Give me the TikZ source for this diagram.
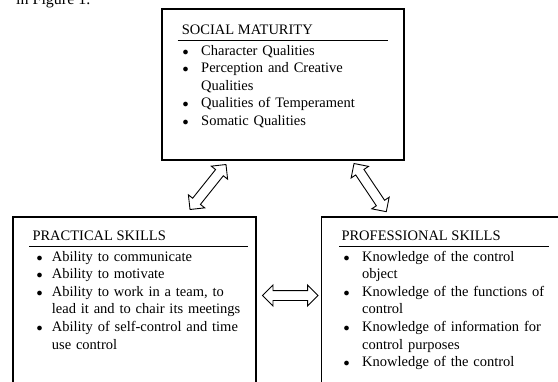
\documentclass[tikz,border=0pt]{standalone}
\usepackage{fontspec}
\setmainfont{Liberation Serif}
\usetikzlibrary{shapes.arrows,calc}
\newlength\bulwd
\newcommand{\bul}{\makebox[\bulwd][l]{\fontsize{12}{12}\selectfont$\bullet$}}
\newcommand{\cnt}{\hspace*{\bulwd}}

\begin{document}
\begin{tikzpicture}[x=1pt, y=-1pt,
    box/.style={draw, line width=1.6pt, rectangle, outer sep=0pt, inner sep=0pt, anchor=north west},
    boxtitle/.style={anchor=base west, inner sep=0pt, font=\fontsize{14.5}{17.6}\selectfont},
    boxlist/.style={anchor=base west, inner sep=0pt, text width=230pt, align=left, font=\fontsize{14.5}{17.6}\selectfont, execute at begin node={\setlength\bulwd{#1}}},
    boxrule/.style={line width=1.3pt},
    blockarrow/.style={double arrow, draw, line width=0.9pt, inner xsep=0pt, inner ysep=4.5pt, minimum width=0pt, double arrow head extend=5.5pt, minimum height=#1, sloped}]
  \useasboundingbox (0,0) rectangle (558,381);
  \clip (0,0) rectangle (558,381);

  % Caption line above the figure
  \node[anchor=base west, inner sep=0pt, font=\fontsize{16}{19}\selectfont] (figref) at (16,4) {in Figure 1.};

  % Social maturity
  \node[box, minimum width=242.3pt, minimum height=151pt] (social) at (161.7,9) {};
  \node[boxtitle] (socialtitle) at (181.7,34.3) {SOCIAL MATURITY};
  \draw[boxrule] (177.7,40.7) -- (388.3,40.7);
  \node[boxlist=18.7pt] (sociallist) at (182.3,55) {\bul Character Qualities\\ \bul Perception and Creative\\ \cnt Qualities\\ \bul Qualities of Temperament\\ \bul Somatic Qualities};

  % Practical skills
  \node[box, minimum width=243pt, minimum height=200pt] (practical) at (12.7,216.7) {};
  \node[boxtitle] (practicaltitle) at (32.3,240) {PRACTICAL SKILLS};
  \draw[boxrule] (29.3,246.7) -- (248.3,246.7);
  \node[boxlist=15.4pt] (practicallist) at (36.3,261) {\bul Ability to communicate\\ \bul Ability to motivate\\ \bul Ability to work in a team, to\\ \cnt lead it and to chair its meetings\\ \bul Ability of self-control and time\\ \cnt use control};

  % Professional skills
  \node[box, minimum width=260pt, minimum height=200pt] (professional) at (321.3,216.7) {};
  \node[boxtitle] (professionaltitle) at (341.3,240) {PROFESSIONAL SKILLS};
  \draw[boxrule] (339,246.7) -- (549,246.7);
  \node[boxlist=18.5pt] (professionallist) at (343.5,261) {\bul Knowledge of the control\\ \cnt object\\ \bul Knowledge of the functions of\\ \cnt control\\ \bul Knowledge of information for\\ \cnt control purposes\\ \bul Knowledge of the control};

  % Block arrows between the boxes
  \coordinate (sp) at ($(social.south west)+(64.3,4.5)$);
  \coordinate (ps) at ($(practical.north west)+(177.3,-7.2)$);
  \coordinate (sf) at ($(social.south west)+(192.3,3.5)$);
  \coordinate (fs) at ($(professional.north west)+(65,-5)$);
  \coordinate (pf) at ($(practical.north east)+(6.8,78.8)$);
  \coordinate (fp) at ($(professional.north west)+(-3.3,78.8)$);
  \path (ps) -- node[blockarrow=57.6pt] (arrowps) {} (sp);
  \path (sf) -- node[blockarrow=58pt] (arrowsf) {} (fs);
  \path (pf) -- node[blockarrow=55.5pt] (arrowpf) {} (fp);
\end{tikzpicture}
\end{document}
